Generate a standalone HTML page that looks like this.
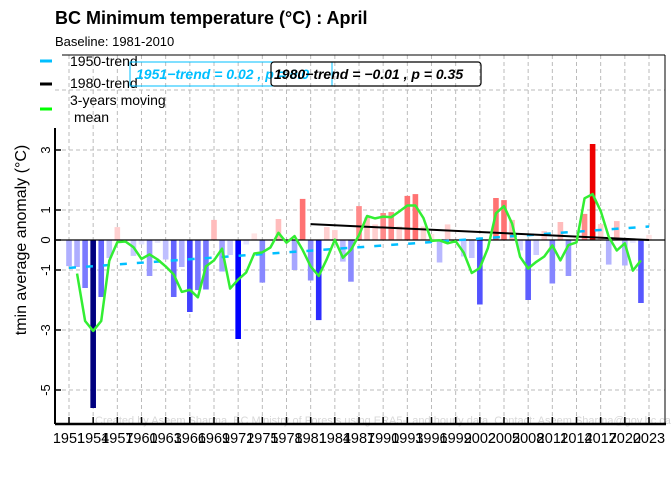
<!DOCTYPE html>
<html><head><meta charset="utf-8"><style>
body{margin:0;background:#fff;}
svg{display:block;font-family:"Liberation Sans",sans-serif;}
</style></head><body>
<svg id="chart" width="672" height="480">
<text x="55" y="24" font-size="18" font-weight="bold">BC Minimum temperature (°C) : April</text>
<text x="55" y="46" font-size="13">Baseline: 1981-2010</text>
<g id="grid"></g>
<g id="bars"></g>
<g id="lines"></g>
<text x="95" y="424" font-size="11" fill="#d8d8d8">Created by Aseem Sharma, BC Ministry of Forests using ERA5-Land hourly data. Contact: Aseem.Sharma@gov.bc.ca</text>
<g id="axes"></g>
<text transform="translate(26,240) rotate(-90)" text-anchor="middle" font-size="16">tmin average anomaly (°C)</text>
<g>
<line x1="40" y1="61" x2="52" y2="61" stroke="#00bfff" stroke-width="3"/>
<text x="70" y="66" font-size="14">1950-trend</text>
<line x1="40" y1="84" x2="52" y2="84" stroke="#000" stroke-width="3"/>
<text x="70" y="88" font-size="14">1980-trend</text>
<line x1="40" y1="109" x2="52" y2="109" stroke="#00ff00" stroke-width="3"/>
<text x="70" y="105" font-size="14">3-years moving</text>
<text x="74" y="122" font-size="14">mean</text>
</g>
<rect x="130" y="62" width="202" height="24" fill="none" stroke="#00bfff" stroke-width="1"/>
<text x="136" y="79" font-size="14" font-weight="bold" font-style="italic" fill="#00bfff">1951−trend = 0.02 , p = 0.0</text>
<rect x="271" y="62" width="210" height="24" rx="3" fill="none" stroke="#000" stroke-width="1.2"/>
<text x="274" y="79" font-size="14" font-weight="bold" font-style="italic" fill="#000">1980−trend = −0.01 , p = 0.35</text>
</svg>
<script>
const years=[];for(let y=1951;y<=2023;y++)years.push(y);
const anomalies=[-0.87,-0.9,-1.6,-5.6,-1.9,-0.6,0.43,-0.05,-0.53,-0.15,-1.2,-0.1,-0.65,-1.9,-0.9,-2.4,-1.67,-1.65,0.67,-1.05,-0.5,-3.3,-0.15,0.22,-1.42,-0.02,0.7,0.03,-1.0,1.37,-1.35,-2.67,0.43,0.33,-0.72,-1.39,1.13,0.75,0.52,0.9,0.93,0.45,1.47,1.53,0.45,0.2,-0.75,0.52,-0.1,-0.55,-0.6,-2.15,-0.05,1.4,1.33,0.67,-0.35,-2.0,-0.5,0.3,-1.45,0.6,-1.2,0.1,0.87,3.2,0.53,-0.82,0.63,-0.85,-0.1,-2.1,0.17];
const movingYears=[];for(let y=1952;y<=2022;y++)movingYears.push(y);
const movingMean=[-1.12,-2.70,-3.03,-2.70,-0.69,-0.07,-0.05,-0.24,-0.63,-0.48,-0.65,-0.88,-1.15,-1.73,-1.66,-1.91,-0.88,-0.68,-0.29,-1.62,-1.32,-1.08,-0.45,-0.41,-0.25,0.24,-0.09,0.13,-0.33,-0.88,-1.20,-0.64,0.01,-0.59,-0.33,0.16,0.80,0.72,0.78,0.76,0.95,1.15,1.15,0.73,-0.03,-0.01,-0.11,-0.04,-0.42,-1.10,-0.93,-0.27,0.89,1.13,0.55,-0.56,-0.95,-0.73,-0.55,-0.18,-0.68,-0.17,-0.08,1.39,1.53,0.97,0.11,-0.35,-0.11,-1.02,-0.68];
const trend1950=[[1951,-0.93],[2023,0.45]];
const trend1980=[[1981,0.53],[2023,0.0]];
const yTicks=[3,1,0,-1,-3,-5];
const yGrid=[5,3,1,-1,-3,-5];
const xTickYears=[];for(let y=1951;y<=2023;y+=3)xTickYears.push(y);

const NS="http://www.w3.org/2000/svg";
const X=y=>69+(y-1951)*(580/72);
const Y=v=>240-v*30;
function mk(tag,attrs,parent){const e=document.createElementNS(NS,tag);for(const k in attrs)e.setAttribute(k,attrs[k]);document.getElementById(parent).appendChild(e);return e;}
function col(v){
  const a=Math.abs(v);
  if(v<0){
    if(a>4.5)return"#00007f";
    const t=Math.min(a/3.3,1);
    const c=Math.round(238-t*238);
    return`rgb(${c},${c},255)`;
  }
  if(a<0.3)return"#ffe4e4";
  if(a<0.6)return"#ffd0d0";
  if(a<0.8)return"#ffbcbc";
  if(a<1.2)return"#ff8a8a";
  if(a<2)return"#ff7272";
  return"#ee0000";
}
yGrid.forEach(v=>{const l=mk('line',{x1:55,x2:665,y1:Y(v),y2:Y(v),stroke:'#bbb','stroke-dasharray':'4,3'},'grid');

});
xTickYears.forEach(y=>{const l=mk('line',{x1:X(y),x2:X(y),y1:55,y2:424,stroke:'#bbb','stroke-dasharray':'4,3'},'grid');

});
anomalies.forEach((v,i)=>{const x=X(years[i]);const r=mk('rect',{x:x-2.8,width:5.6,y:Math.min(Y(v),Y(0)),height:Math.abs(Y(v)-Y(0)),fill:col(v)},'bars');

});
const z=mk('line',{x1:55,x2:665,y1:Y(0),y2:Y(0),stroke:'#000','stroke-width':1.3},'lines');


const t1=mk('line',{x1:X(trend1950[0][0]),y1:Y(trend1950[0][1]),x2:X(trend1950[1][0]),y2:Y(trend1950[1][1]),stroke:'#00bfff','stroke-width':2.5,'stroke-dasharray':'7,10'},'lines');


const t2=mk('line',{x1:X(trend1980[0][0]),y1:Y(trend1980[0][1]),x2:X(trend1980[1][0]),y2:Y(trend1980[1][1]),stroke:'#000','stroke-width':2},'lines');


const mm=mk('polyline',{points:movingMean.map((v,i)=>X(movingYears[i])+','+Y(v)).join(' '),fill:'none',stroke:'#33ee33','stroke-width':2.5,'stroke-linejoin':'round'},'lines');


const ya=mk('line',{x1:55,x2:55,y1:128,y2:424,stroke:'#000','stroke-width':2},'axes');


const xa=mk('line',{x1:55,x2:666,y1:424,y2:424,stroke:'#000','stroke-width':2.5},'axes');


const tb=mk('line',{x1:62,x2:665,y1:55,y2:55,stroke:'#000','stroke-width':1},'axes');


const rb=mk('line',{x1:665,x2:665,y1:55,y2:424,stroke:'#000','stroke-width':1},'axes');


yTicks.forEach(v=>{const l=mk('line',{x1:55,x2:61,y1:Y(v),y2:Y(v),stroke:'#000','stroke-width':1.5},'axes');


const t=mk('text',{transform:`translate(50,${Y(v)}) rotate(-90)`,'text-anchor':'middle','font-size':13},'axes');t.textContent=String(v);

});
xTickYears.forEach(y=>{const l=mk('line',{x1:X(y),x2:X(y),y1:417,y2:424,stroke:'#000','stroke-width':1.5},'axes');


const t=mk('text',{x:X(y),y:443,'text-anchor':'middle','font-size':14.5},'axes');t.textContent=y;

});
</script>
</body></html>
